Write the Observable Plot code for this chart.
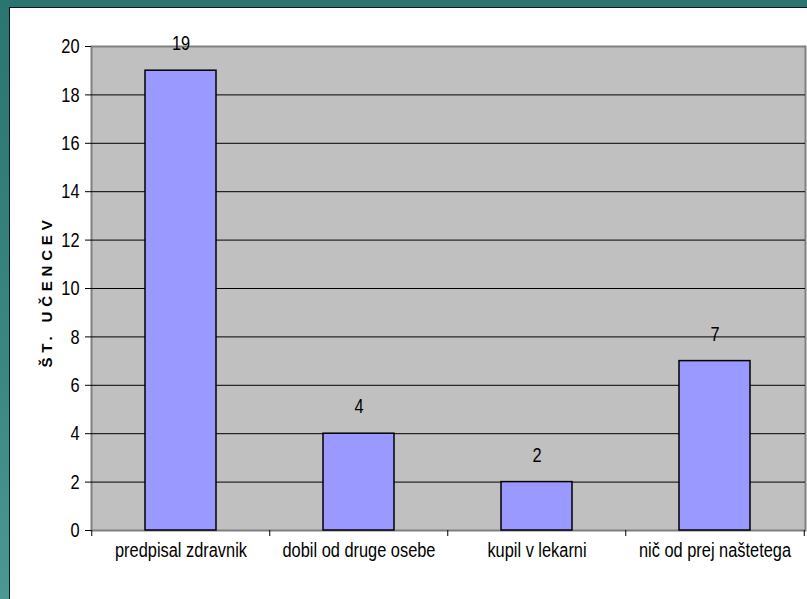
<!DOCTYPE html>
<html>
<head>
<meta charset="utf-8">
<script src="https://cdn.jsdelivr.net/npm/d3@7"></script>
<script src="https://cdn.jsdelivr.net/npm/@observablehq/plot@0.6"></script>
<style>
  html, body { margin: 0; padding: 0; }
  body { width: 807px; height: 599px; overflow: hidden;
         background: linear-gradient(180deg, #2c746f 0%, #3a8782 60%, #4b9894 100%); position: relative; }
  #panel { position: absolute; left: 9px; top: 7px; width: 797px; height: 591px;
           border-left: 1px solid #0a1a18; border-top: 1px solid #0a1a18; background: #ffffff; }
  #panel svg { display: block; }
</style>
</head>
<body>
<div id="panel"></div>
<script>
const categories = ["predpisal zdravnik", "dobil od druge osebe", "kupil v lekarni", "nič od prej naštetega"];
const counts = [19, 4, 2, 7];
const yTicks = [0, 2, 4, 6, 8, 10, 12, 14, 16, 18, 20];
const yLabel = "ŠT. UČENCEV";

const data = categories.map((c, i) => ({category: c, value: counts[i]}));

const W = 797, H = 591;
const mL = 81, mR = 2, mT = 38, mB = 69;
const step = (W - mL - mR) / categories.length;
const font = "'Liberation Sans', Arial, sans-serif";
const FS = 21;
const SX = 0.78;

const chart = Plot.plot({
  width: W, height: H,
  marginLeft: mL, marginRight: mR, marginTop: mT, marginBottom: mB,
  style: {fontFamily: font, fontSize: FS + "px", color: "#000", background: "transparent", overflow: "visible"},
  x: {domain: categories, paddingInner: 0.6, paddingOuter: 0.3, label: null},
  y: {domain: [0, 20], label: null},
  marks: [
    Plot.frame({fill: "#c0c0c0", stroke: "#808080", strokeWidth: 2}),
    Plot.ruleY(yTicks.filter(d => d > 0 && d < 20), {stroke: "#000", strokeWidth: 1}),
    Plot.barY(data, {x: "category", y: "value", fill: "#9999ff", stroke: "#000", strokeWidth: 1.5}),
    Plot.text(data, {x: "category", y: "value", text: d => String(d.value), dy: -27, fontSize: FS, fill: "#000"}),
    Plot.axisY({ticks: yTicks, tickSize: 6, tickPadding: 6, tickFormat: d => String(d), fontSize: FS, label: null, line: true}),
    Plot.axisX({tickSize: 0, tickPadding: 12, fontSize: FS, label: null, line: true}),
    Plot.ruleX(categories, {x: d => d, y1: 0, y2: 0, dx: -step / 2, insetBottom: -6, stroke: "#000"}),
    Plot.ruleX([categories[categories.length - 1]], {x: d => d, y1: 0, y2: 0, dx: step / 2, insetBottom: -6, stroke: "#000"}),
    Plot.text([yLabel], {frameAnchor: "left", dx: -44, dy: 3, rotate: -90, textAnchor: "middle",
                         fontSize: 15, fontWeight: "bold", fill: "#000"})
  ]
});

document.getElementById("panel").appendChild(chart);

// Condense the regular texts horizontally (the reference uses a narrow face)
d3.select(chart).selectAll("text").each(function() {
  if (this.textContent === yLabel) {
    this.style.letterSpacing = "4.8px";
  } else if (this.textContent.trim().length) {
    const x = +this.getAttribute("x") || 0;
    const t = this.getAttribute("transform") || "";
    this.setAttribute("transform", `${t} translate(${x} 0) scale(${SX} 1) translate(${-x} 0)`.trim());
  }
});
</script>
</body>
</html>
